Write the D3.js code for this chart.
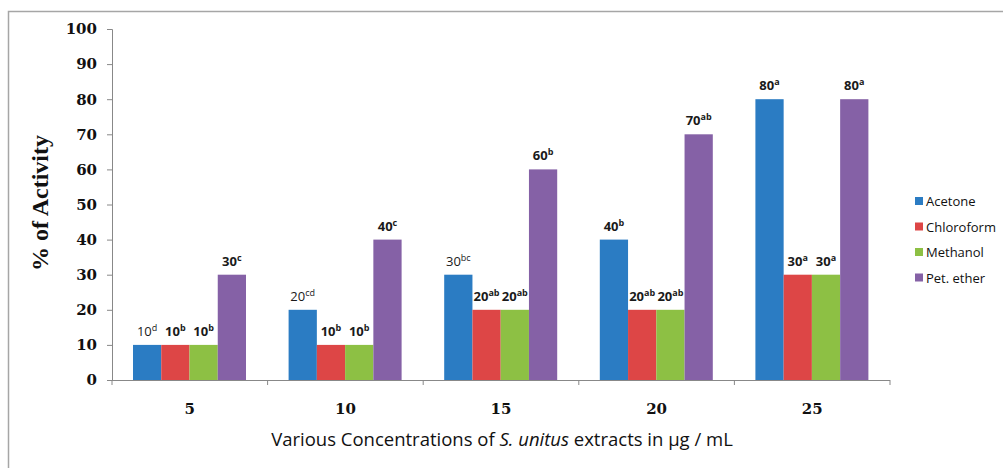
<!DOCTYPE html>
<html><head><meta charset="utf-8">
<script src="https://cdn.jsdelivr.net/npm/d3@7"></script>
<style>body{margin:0;background:#fff}svg{display:block}</style>
</head><body>
<svg id="c" width="1003" height="468"></svg>
<script>
const categories = ["5","10","15","20","25"];
const seriesNames = ["Acetone","Chloroform","Methanol","Pet. ether"];
const acetone    = [10,20,30,40,80];
const chloroform = [10,10,20,20,30];
const methanol   = [10,10,20,20,30];
const petEther   = [30,40,60,70,80];
const acetoneLetters    = ["d","cd","bc","b","a"];
const chloroformLetters = ["b","b","ab","ab","a"];
const methanolLetters   = ["b","b","ab","ab","a"];
const petEtherLetters   = ["c","c","b","ab","a"];
const yTicks = [0,10,20,30,40,50,60,70,80,90,100];

const colors = ["#2b7cc3","#dd4646","#8dc044","#8561a6"];
const values = [acetone, chloroform, methanol, petEther];
const letters = [acetoneLetters, chloroformLetters, methanolLetters, petEtherLetters];

const svg = d3.select("#c");
svg.append("rect").attr("x",8.5).attr("y",11.5).attr("width",1010).attr("height",470)
  .attr("fill","none").attr("stroke","#a6a6a6").attr("stroke-width",1.5);

const x0 = d3.scaleBand().domain(categories).range([112,890]);
const x1 = d3.scaleBand().domain(seriesNames).range([21,134]);
const y = d3.scaleLinear().domain([0,100]).range([380,29]);

seriesNames.forEach((s,si)=>{
  const g = svg.append("g");
  const data = categories.map((c,ci)=>({c, v: values[si][ci], l: letters[si][ci]}));
  g.selectAll("rect").data(data).join("rect")
    .attr("x",d=>x0(d.c)+x1(s))
    .attr("y",d=>y(d.v))
    .attr("width",x1.bandwidth())
    .attr("height",d=>y(0)-y(d.v))
    .attr("fill",colors[si]);
  const t = g.selectAll("text").data(data).join("text")
    .attr("x",d=>x0(d.c)+x1(s)+x1.bandwidth()/2)
    .attr("y",d=>y(d.v)-9)
    .attr("text-anchor","middle")
    .attr("font-family","'Open Sans', sans-serif")
    .attr("font-size",13)
    .attr("font-weight",d=> (si===0 && d.v<40) ? "normal" : "bold")
    .attr("fill","#1a1a1a");
  t.append("tspan").text(d=>d.v);
  t.append("tspan").attr("font-size",9).attr("dy",-5).text(d=>d.l);
});

const yAxis = svg.append("g").attr("transform","translate(112,0)")
  .call(d3.axisLeft(y).tickValues(yTicks).tickSize(5).tickPadding(10));
yAxis.select(".domain").attr("stroke","#888");
yAxis.selectAll(".tick line").attr("stroke","#888");
yAxis.selectAll(".tick text").attr("font-family","'DejaVu Serif', serif")
  .attr("font-weight","bold").attr("font-size",15).attr("fill","#111");

const xg = svg.append("g");
xg.append("line").attr("x1",107).attr("x2",890).attr("y1",380.5).attr("y2",380.5).attr("stroke","#888");
const bounds = categories.map(c=>x0(c)).concat([x0.range()[1]]);
xg.selectAll("line.tk").data(bounds).join("line").attr("class","tk")
  .attr("x1",d=>d).attr("x2",d=>d).attr("y1",380).attr("y2",385).attr("stroke","#888");
xg.selectAll("text").data(categories).join("text")
  .attr("x",d=>x0(d)+x0.bandwidth()/2).attr("y",414)
  .attr("text-anchor","middle").attr("font-family","'DejaVu Serif', serif")
  .attr("font-weight","bold").attr("font-size",15).attr("fill","#111").text(d=>d);

const xt = svg.append("text").attr("x",502).attr("y",446).attr("text-anchor","middle")
  .attr("font-family","'Open Sans', sans-serif").attr("font-size",18.5).attr("fill","#111");
xt.append("tspan").text("Various Concentrations of ");
xt.append("tspan").attr("font-style","italic").text("S. unitus");
xt.append("tspan").text(" extracts in µg / mL");

svg.append("text").attr("transform","translate(48,203) rotate(-90)")
  .attr("text-anchor","middle").attr("font-family","'Liberation Serif', serif")
  .attr("font-weight","bold").attr("font-size",24).attr("fill","#111").text("% of Activity");

const lg = svg.append("g").attr("transform","translate(915,202)");
seriesNames.forEach((s,i)=>{
  const r = lg.append("g").attr("transform",`translate(0,${i*25.5})`);
  r.append("rect").attr("x",0).attr("y",-5).attr("width",8).attr("height",8).attr("fill",colors[i]);
  r.append("text").attr("x",11).attr("y",4).attr("font-family","'Open Sans', sans-serif")
    .attr("font-size",13).attr("fill","#111").text(s);
});
</script>
</body></html>
